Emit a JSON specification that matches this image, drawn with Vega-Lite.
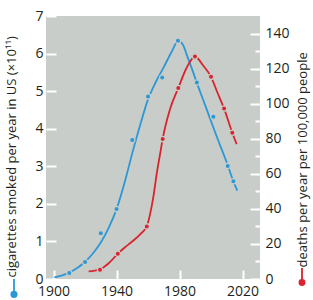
{
  "$schema": "https://vega.github.io/schema/vega-lite/v6.json",
  "width": 214,
  "height": 263,
  "autosize": {"type": "none"},
  "padding": {"left": 46, "top": 16, "right": 53, "bottom": 21},
  "background": "white",
  "config": {
    "view": {"fill": "#c8cdc9", "stroke": null},
    "font": "Open Sans",
    "axis": {
      "domain": false,
      "grid": false,
      "zindex": 1,
      "tickColor": "#ffffff",
      "tickOpacity": 1,
      "tickWidth": 2,
      "labelOverlap": false,
      "labelColor": "#231f20",
      "labelFont": "Open Sans",
      "labelFontSize": 14,
      "titleFont": "Open Sans",
      "titleFontSize": 13,
      "titleFontWeight": "normal",
      "titleColor": "#231f20"
    }
  },
  "datasets": {
    "cigCurve": [
      {"year": 1900.5, "value": 0.04}, {"year": 1905, "value": 0.09}, {"year": 1910, "value": 0.17},
      {"year": 1915, "value": 0.29}, {"year": 1920, "value": 0.46}, {"year": 1925, "value": 0.68},
      {"year": 1930, "value": 0.97}, {"year": 1935, "value": 1.36}, {"year": 1940, "value": 1.86},
      {"year": 1945, "value": 2.55}, {"year": 1950, "value": 3.35}, {"year": 1955, "value": 4.1},
      {"year": 1960, "value": 4.78}, {"year": 1965, "value": 5.25}, {"year": 1970, "value": 5.64},
      {"year": 1975, "value": 6.05}, {"year": 1979.2, "value": 6.34}, {"year": 1982, "value": 6.25},
      {"year": 1985, "value": 5.92}, {"year": 1988, "value": 5.58}, {"year": 1991, "value": 5.22},
      {"year": 1995, "value": 4.77}, {"year": 2000, "value": 4.2}, {"year": 2005, "value": 3.64},
      {"year": 2010, "value": 3.1}, {"year": 2014.2, "value": 2.6}, {"year": 2016.7, "value": 2.35}
    ],
    "cigPts": [
      {"year": 1910, "value": 0.16}, {"year": 1920, "value": 0.45}, {"year": 1930, "value": 1.22},
      {"year": 1940, "value": 1.86}, {"year": 1950, "value": 3.7}, {"year": 1960, "value": 4.86},
      {"year": 1969, "value": 5.36}, {"year": 1979, "value": 6.34}, {"year": 1991, "value": 5.23},
      {"year": 2001.5, "value": 4.32}, {"year": 2010.6, "value": 3.01}, {"year": 2014.2, "value": 2.6}
    ],
    "deathCurve": [
      {"year": 1922.3, "value": 4.3}, {"year": 1926, "value": 4.8}, {"year": 1929.5, "value": 5.5},
      {"year": 1935, "value": 9.0}, {"year": 1940.8, "value": 14.4}, {"year": 1945, "value": 17.8},
      {"year": 1950, "value": 21.4}, {"year": 1955, "value": 25.5}, {"year": 1959.2, "value": 30.0},
      {"year": 1961.3, "value": 37}, {"year": 1963.4, "value": 47}, {"year": 1965.5, "value": 60},
      {"year": 1967.6, "value": 71}, {"year": 1969.3, "value": 80}, {"year": 1974, "value": 97},
      {"year": 1979.2, "value": 108.9}, {"year": 1984.6, "value": 120.6}, {"year": 1989.8, "value": 126.9},
      {"year": 1995.1, "value": 121.6}, {"year": 2000, "value": 115.3}, {"year": 2004, "value": 106.5},
      {"year": 2008.3, "value": 97.2}, {"year": 2013.5, "value": 83.4}, {"year": 2016.3, "value": 76.9}
    ],
    "deathPts": [
      {"year": 1929.5, "value": 5.3}, {"year": 1940.8, "value": 14.4}, {"year": 1959.2, "value": 30.0},
      {"year": 1969.3, "value": 79.8}, {"year": 1979.2, "value": 108.9}, {"year": 1989.8, "value": 126.9},
      {"year": 2000, "value": 115.3}, {"year": 2008.3, "value": 97.2}, {"year": 2013.5, "value": 83.4}
    ]
  },
  "layer": [
    {
      "data": {"name": "cigCurve"},
      "mark": {"type": "line", "interpolate": "monotone", "strokeWidth": 1.8},
      "encoding": {
        "x": {
          "field": "year", "type": "quantitative",
          "scale": {"domain": [1895.2, 2031.1], "nice": false, "zero": false},
          "axis": {
            "title": null,
            "values": [1900, 1920, 1940, 1960, 1980, 2000, 2020],
            "labelExpr": "(datum.value - 1900) % 40 == 0 ? datum.label : ''",
            "format": "d",
            "ticks": true,
            "tickSize": -9,
            "labelPadding": 14,
            "labelOverlap": false,
            "labelFlush": false
          }
        },
        "y": {
          "field": "value", "type": "quantitative",
          "scale": {"domain": [0, 7], "nice": false},
          "axis": {
            "orient": "left",
            "values": [0, 1, 2, 3, 4, 5, 6, 7],
            "ticks": true,
            "tickSize": -10,
            "labelPadding": 13,
            "labelOverlap": false,
            "labelFlush": false,
            "title": "cigarettes smoked per year in US (×10¹¹)",
            "titleAngle": 270,
            "titleAlign": "left",
            "titleBaseline": "alphabetic",
            "titleX": -30.5,
            "titleY": 261
          }
        },
        "color": {
          "datum": "cigarettes",
          "scale": {"range": ["#2b98d5"]},
          "legend": {
            "orient": "none",
            "legendX": -42,
            "legendY": 262,
            "title": null,
            "padding": 0,
            "symbolType": "M0,-1L0,0.4M0.3,0.7A0.3,0.3,0,1,1,-0.3,0.7A0.3,0.3,0,1,1,0.3,0.7Z",
            "symbolSize": 324,
            "symbolStrokeWidth": 1.8,
            "labelExpr": "''",
            "labelFontSize": 1,
            "encode": {"symbols": {"update": {"fill": {"value": "#2b98d5"}, "stroke": {"value": "#2b98d5"}}}}
          }
        }
      }
    },
    {
      "data": {"name": "cigPts"},
      "mark": {"type": "point", "filled": true, "color": "#2b98d5", "stroke": "#c8cdc9", "strokeWidth": 1.3, "size": 28, "opacity": 1},
      "encoding": {
        "x": {"field": "year", "type": "quantitative"},
        "y": {"field": "value", "type": "quantitative", "scale": {"domain": [0, 7], "nice": false}, "axis": null}
      }
    },
    {
      "data": {"name": "deathCurve"},
      "mark": {"type": "line", "interpolate": "monotone", "strokeWidth": 1.8},
      "encoding": {
        "x": {"field": "year", "type": "quantitative"},
        "y": {
          "field": "value", "type": "quantitative",
          "scale": {"domain": [0, 150], "nice": false},
          "axis": {
            "orient": "right",
            "values": [0, 10, 20, 30, 40, 50, 60, 70, 80, 90, 100, 110, 120, 130, 140],
            "labelExpr": "datum.value % 20 == 0 ? datum.label : ''",
            "ticks": true,
            "tickSize": {"condition": {"test": "datum.value % 20 == 0", "value": -10}, "value": -5},
            "labelPadding": 15,
            "labelOverlap": false,
            "labelFlush": false,
            "title": "deaths per year per 100,000 people",
            "titleAngle": 270,
            "titleAlign": "left",
            "titleBaseline": "alphabetic",
            "titleX": 46.5,
            "titleY": 251
          }
        },
        "color": {
          "datum": "deaths",
          "scale": {"range": ["#d9232d"]},
          "legend": {
            "orient": "none",
            "legendX": 246.5,
            "legendY": 251,
            "title": null,
            "padding": 0,
            "symbolType": "M0,-1L0,0.4M0.3,0.7A0.3,0.3,0,1,1,-0.3,0.7A0.3,0.3,0,1,1,0.3,0.7Z",
            "symbolSize": 289,
            "symbolStrokeWidth": 1.8,
            "labelExpr": "''",
            "labelFontSize": 1,
            "encode": {"symbols": {"update": {"fill": {"value": "#d9232d"}, "stroke": {"value": "#d9232d"}}}}
          }
        }
      }
    },
    {
      "data": {"name": "deathPts"},
      "mark": {"type": "point", "filled": true, "color": "#d9232d", "stroke": "#c8cdc9", "strokeWidth": 1.3, "size": 28, "opacity": 1},
      "encoding": {
        "x": {"field": "year", "type": "quantitative"},
        "y": {"field": "value", "type": "quantitative", "scale": {"domain": [0, 150], "nice": false}, "axis": null}
      }
    }
  ],
  "resolve": {"scale": {"y": "independent", "color": "independent"}}
}
